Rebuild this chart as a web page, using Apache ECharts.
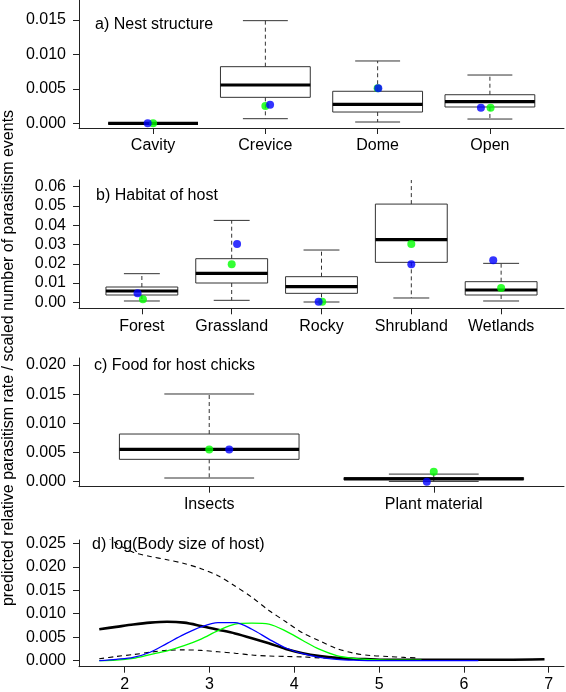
<!DOCTYPE html>
<html>
<head>
<meta charset="utf-8">
<script src="https://cdn.jsdelivr.net/npm/echarts@6/dist/echarts.min.js"></script>
<style>
html,body{margin:0;padding:0;background:#fff;}
#chart{width:566px;height:692px;}
</style>
</head>
<body>
<div id="chart"></div>
<script>
// ---------- DATA ----------
// Box stats: [lowWhisker, Q1, median, Q3, highWhisker]
const nestCats = ['Cavity', 'Crevice', 'Dome', 'Open'];
const nestStats = [
  [0, 0, 0, 0, 0],
  [0.00067, 0.00377, 0.00556, 0.00822, 0.0149],
  [0.00019, 0.00164, 0.00276, 0.00465, 0.00905],
  [0.00062, 0.00237, 0.00314, 0.00415, 0.00701]
];
const nestBlue = [0.0, 0.0027, 0.00508, 0.00227];
const nestBlueJit = [-0.048, 0.042, 0.006, -0.08];
const nestGreen = [0.0, 0.00251, 0.00508, 0.00227];
const nestGreenJit = [0, 0, 0, 0.006];

const habCats = ['Forest', 'Grassland', 'Rocky', 'Shrubland', 'Wetlands'];
const habStats = [
  [0.00069, 0.0038, 0.00588, 0.00795, 0.01487],
  [0.00104, 0.01003, 0.01504, 0.02265, 0.04253],
  [0.00017, 0.00467, 0.00813, 0.01331, 0.02715],
  [0.00225, 0.02075, 0.0325, 0.051, 0.07],
  [0.00069, 0.0038, 0.0064, 0.01072, 0.02023]
];
const habBlue = [0.00467, 0.03026, 0.00035, 0.01971, 0.02179];
const habBlueJit = [-0.048, 0.06, -0.032, 0, -0.088];
const habGreen = [0.00156, 0.01971, 0.00035, 0.03026, 0.00744];
const habGreenJit = [0.012, 0, 0.008, 0, 0];

const foodCats = ['Insects', 'Plant material'];
const foodStats = [
  [0.00063, 0.00383, 0.00554, 0.00817, 0.01503],
  [0.00005, 0.0003, 0.0005, 0.0007, 0.0013]
];
const foodBlue = [0.0055, 0.0];
const foodBlueJit = [0.089, -0.031];
const foodGreen = [0.0055, 0.0017];
const foodGreenJit = [0, 0];

// Panel d: log(body size)
const bodyX = [1.7, 1.9, 2.1, 2.3, 2.5, 2.7, 2.9, 3.1, 3.3, 3.5, 3.7, 3.9, 4.1, 4.3, 4.5, 4.7, 4.9, 5.1, 5.3, 5.43, 5.5, 6.0, 6.17, 6.5, 6.95];
const bodyFit = [0.0067, 0.0072, 0.0077, 0.0081, 0.0083, 0.0081, 0.0074, 0.0066, 0.0058, 0.0048, 0.0037, 0.0025, 0.0016, 0.0010, 0.0006, 0.0004, 0.0003, 0.0002, 0.0002, 0.0002, 0.0002, 0.0002, 0.0002, 0.0002, 0.0003];
const bodyUpper = [0.0275, 0.0250, 0.0231, 0.0222, 0.0215, 0.0207, 0.0196, 0.0181, 0.0159, 0.0135, 0.0107, 0.0083, 0.0059, 0.0042, 0.0026, 0.0016, 0.0011, 0.0009, 0.0007, 0.0006];
const bodyLower = [0.0004, 0.0009, 0.0013, 0.0018, 0.0022, 0.0023, 0.0022, 0.0019, 0.0016, 0.0012, 0.0010, 0.0009, 0.0008, 0.0006, 0.0005, 0.0003, 0.0002, 0.0001, 0.0001, 0.0001];
const bodyBlue = [0.0000, 0.0003, 0.0007, 0.0018, 0.0037, 0.0056, 0.0072, 0.0081, 0.0081, 0.0067, 0.0046, 0.0027, 0.0015, 0.0007, 0.0003, 0.0001, 0.0000, 0.0000, 0.0000, 0.0000, 0.0000, 0.0000, 0.0000];
const bodyGreen = [0.0000, 0.0001, 0.0005, 0.0013, 0.0021, 0.0032, 0.0046, 0.0064, 0.0078, 0.0080, 0.0078, 0.0063, 0.0043, 0.0024, 0.0011, 0.0005, 0.0002, 0.0001, 0.0001, 0.0001, 0.0001];

const titles = ['a) Nest structure', 'b) Habitat of host', 'c) Food for host chicks', 'd) log(Body size of host)'];
const yTitle = 'predicted relative parasitism rate / scaled number of parasitism events';
const yTicksA = [0, 0.005, 0.010, 0.015];
const yTicksB = [0, 0.01, 0.02, 0.03, 0.04, 0.05, 0.06];
const yTicksC = [0, 0.005, 0.010, 0.015, 0.020];
const yTicksD = [0, 0.005, 0.010, 0.015, 0.020, 0.025];
const xTicksD = [2, 3, 4, 5, 6, 7];

// ---------- CHART ----------
const FONT = "'Liberation Sans', Arial, sans-serif";
const AX = '#222';
const chart = echarts.init(document.getElementById('chart'), null, {renderer: 'canvas'});

function boxRender(params, api) {
  const x = api.value(0);
  const lo = api.value(1), q1 = api.value(2), med = api.value(3), q3 = api.value(4), hi = api.value(5);
  const c = api.coord([x, med]);
  const half = api.coord([x + 0.4, med])[0] - c[0];
  const cap = half / 2;
  const cx = c[0];
  const yLo = api.coord([x, lo])[1], yQ1 = api.coord([x, q1])[1], yMed = c[1];
  const yQ3 = api.coord([x, q3])[1], yHi = api.coord([x, hi])[1];
  const stroke = '#333';
  return {
    type: 'group',
    children: [
      {type: 'line', shape: {x1: cx, y1: yQ3, x2: cx, y2: yHi}, style: {stroke, lineWidth: 1, lineDash: [4, 3]}},
      {type: 'line', shape: {x1: cx, y1: yQ1, x2: cx, y2: yLo}, style: {stroke, lineWidth: 1, lineDash: [4, 3]}},
      {type: 'line', shape: {x1: cx - cap, y1: yHi, x2: cx + cap, y2: yHi}, style: {stroke, lineWidth: 1}},
      {type: 'line', shape: {x1: cx - cap, y1: yLo, x2: cx + cap, y2: yLo}, style: {stroke, lineWidth: 1}},
      {type: 'rect', shape: {x: cx - half, y: yQ3, width: 2 * half, height: yQ1 - yQ3}, style: {stroke, fill: 'rgba(0,0,0,0)', lineWidth: 1}},
      {type: 'line', shape: {x1: cx - half, y1: yMed, x2: cx + half, y2: yMed}, style: {stroke: '#000', lineWidth: 3.2}}
    ]
  };
}

const panels = [
  {cats: nestCats, stats: nestStats, blue: nestBlue, bj: nestBlueJit, green: nestGreen, gj: nestGreenJit, yt: yTicksA, dec: 3, top: 0, height: 128, ymin: -0.00068, ymax: 0.0179},
  {cats: habCats, stats: habStats, blue: habBlue, bj: habBlueJit, green: habGreen, gj: habGreenJit, yt: yTicksB, dec: 2, top: 180, height: 128.3, ymin: -0.0031, ymax: 0.0635},
  {cats: foodCats, stats: foodStats, blue: foodBlue, bj: foodBlueJit, green: foodGreen, gj: foodGreenJit, yt: yTicksC, dec: 3, top: 358, height: 128.7, ymin: -0.00086, ymax: 0.0212}
];

const grids = [], xAxes = [], yAxes = [], series = [];
const axisLineCfg = {show: true, onZero: false, lineStyle: {color: AX, width: 1}};
const tickCfg = (vals) => ({show: true, length: 6, inside: false, customValues: vals, lineStyle: {color: AX, width: 1}});
const lab = (vals, fmt, margin) => ({show: true, customValues: vals, formatter: fmt, fontSize: 16, fontFamily: FONT, color: '#000', margin});

panels.forEach((p, i) => {
  const n = p.cats.length;
  const idx = p.cats.map((_, j) => j + 1);
  grids.push({left: 79, width: 485, top: p.top, height: p.height, containLabel: false, outerBoundsMode: 'none'});
  xAxes.push({
    gridIndex: i, type: 'value', min: 0.5 - 0.04 * n, max: n + 0.5 + 0.04 * n,
    axisLine: axisLineCfg, axisTick: tickCfg(idx),
    axisLabel: lab(idx, v => p.cats[Math.round(v) - 1] || '', 10),
    splitLine: {show: false}
  });
  yAxes.push({
    gridIndex: i, type: 'value', min: p.ymin, max: p.ymax,
    axisLine: axisLineCfg, axisTick: tickCfg(p.yt),
    axisLabel: lab(p.yt, v => v.toFixed(p.dec), 13),
    splitLine: {show: false}
  });
  series.push({
    type: 'custom', xAxisIndex: i, yAxisIndex: i, renderItem: boxRender, clip: true, silent: true,
    data: p.stats.map((s, j) => [j + 1].concat(s)),
    encode: {x: 0, y: [1, 2, 3, 4, 5]}, z: 2
  });
  series.push({
    type: 'scatter', xAxisIndex: i, yAxisIndex: i, symbol: 'circle', symbolSize: 8, silent: true,
    itemStyle: {color: '#00ff00'}, z: 3,
    data: p.green.map((v, j) => [j + 1 + p.gj[j], v])
  });
  series.push({
    type: 'scatter', xAxisIndex: i, yAxisIndex: i, symbol: 'circle', symbolSize: 8, silent: true,
    itemStyle: {color: '#0000ff'}, z: 4,
    data: p.blue.map((v, j) => [j + 1 + p.bj[j], v])
  });
});

// Panel d
grids.push({left: 79, width: 485, top: 540, height: 126.7, containLabel: false, outerBoundsMode: 'none'});
xAxes.push({
  gridIndex: 3, type: 'value', min: 1.461, max: 7.18,
  axisLine: axisLineCfg, axisTick: tickCfg(xTicksD),
  axisLabel: lab(xTicksD, v => String(Math.round(v)), 10),
  splitLine: {show: false}
});
yAxes.push({
  gridIndex: 3, type: 'value', min: -0.00128, max: 0.0257,
  axisLine: axisLineCfg, axisTick: tickCfg(yTicksD),
  axisLabel: lab(yTicksD, v => v.toFixed(3), 13),
  splitLine: {show: false}
});
const lineBase = {type: 'line', xAxisIndex: 3, yAxisIndex: 3, showSymbol: false, symbol: 'none', silent: true, smooth: 0.3, clip: true};
series.push(Object.assign({}, lineBase, {data: bodyUpper.map((v, k) => [bodyX[k], v]), lineStyle: {color: '#000', width: 1.1, type: [5, 4]}, z: 2}));
series.push(Object.assign({}, lineBase, {data: bodyLower.map((v, k) => [bodyX[k], v]), lineStyle: {color: '#000', width: 1.1, type: [5, 4]}, z: 2}));
series.push(Object.assign({}, lineBase, {data: bodyFit.map((v, k) => [bodyX[k], v]), lineStyle: {color: '#000', width: 2.6}, z: 3}));
series.push(Object.assign({}, lineBase, {data: bodyGreen.map((v, k) => [bodyX[k], v]), lineStyle: {color: '#00ff00', width: 1.3}, z: 4}));
series.push(Object.assign({}, lineBase, {data: bodyBlue.map((v, k) => [bodyX[k], v]), lineStyle: {color: '#0000ff', width: 1.3}, z: 5}));

const titlePos = [[95, 17], [96, 188], [94, 358], [92, 537]];
const graphics = titles.map((t, i) => ({
  type: 'text', left: titlePos[i][0], top: titlePos[i][1], silent: true, z: 10,
  style: {text: t, font: '16px ' + FONT, fill: '#000'}
}));
graphics.push({
  type: 'text', x: 9, y: 358, rotation: Math.PI / 2, silent: true,
  style: {text: yTitle, font: '16px ' + FONT, fill: '#000', textAlign: 'center', textVerticalAlign: 'middle'}
});

chart.setOption({
  backgroundColor: '#fff',
  animation: false,
  tooltip: {show: false},
  grid: grids,
  xAxis: xAxes,
  yAxis: yAxes,
  series: series,
  graphic: graphics
});
</script>
</body>
</html>
